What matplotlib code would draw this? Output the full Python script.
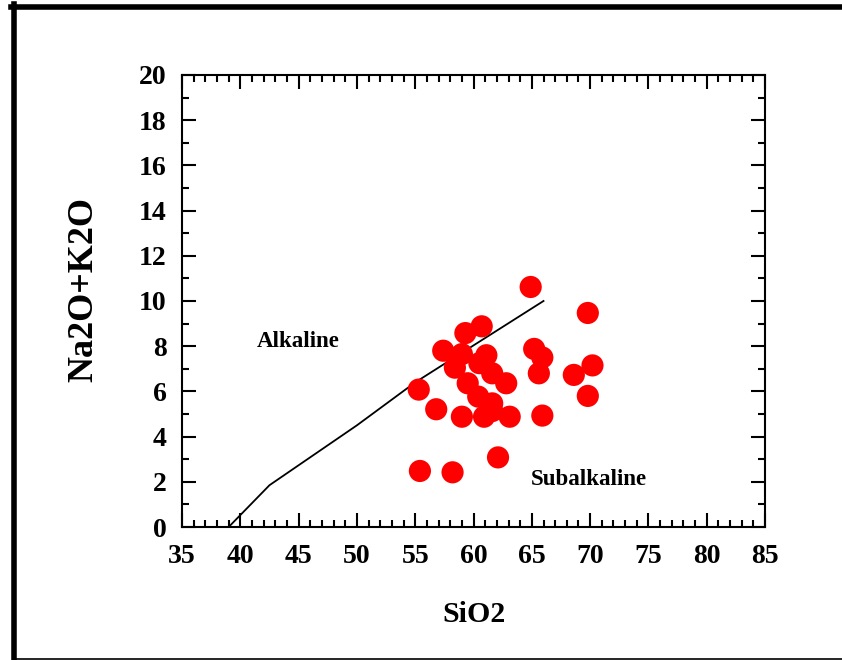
import matplotlib
matplotlib.use("Agg")
import matplotlib.pyplot as plt
from matplotlib.lines import Line2D
from matplotlib.ticker import MultipleLocator

# sample points (SiO2, Na2O+K2O)
sio2 = [64.9, 69.8, 60.7, 59.3, 57.4, 59.0, 61.1, 65.2, 65.9, 70.2,
        65.6, 68.6, 58.4, 60.5, 61.6, 59.5, 62.8, 55.3, 60.4, 61.6,
        56.8, 61.6, 69.8, 59.0, 60.9, 63.1, 65.9, 55.4, 58.2, 62.1]
alkali = [10.62, 9.47, 8.88, 8.58, 7.8, 7.65, 7.6, 7.88, 7.5, 7.15,
          6.8, 6.73, 7.05, 7.25, 6.8, 6.36, 6.36, 6.08, 5.77, 5.47,
          5.21, 5.13, 5.8, 4.88, 4.88, 4.88, 4.93, 2.48, 2.42, 3.08]

# alkaline / subalkaline divide
line_x = [39.0, 42.5, 50.0, 55.0, 66.0]
line_y = [0.0, 1.85, 4.5, 6.4, 10.0]

plt.rcParams['font.family'] = ['Liberation Serif', 'DejaVu Serif']
plt.rcParams['font.weight'] = 'bold'

fig = plt.figure(figsize=(8.42, 6.60), dpi=100)
ax = fig.add_axes([0.2162, 0.2015, 0.6924, 0.6849])

ax.plot(line_x, line_y, color='black', lw=1.3, zorder=2)
ax.scatter(sio2, alkali, s=255, color='#ff0000', edgecolors='none', zorder=3)

ax.text(45.0, 8.2, 'Alkaline', fontsize=16.5, fontweight='bold', ha='center', va='center')
ax.text(69.9, 2.12, 'Subalkaline', fontsize=16.5, fontweight='bold', ha='center', va='center')

ax.set_xlim(35, 85)
ax.set_ylim(0, 20)
ax.xaxis.set_major_locator(MultipleLocator(5))
ax.xaxis.set_minor_locator(MultipleLocator(1))
ax.yaxis.set_major_locator(MultipleLocator(2))
ax.yaxis.set_minor_locator(MultipleLocator(1))
ax.tick_params(which='both', direction='in', top=True, right=True, width=1.5)
ax.tick_params(which='major', length=10)
ax.tick_params(which='minor', length=5)
ax.tick_params(axis='x', which='major', pad=12, labelsize=20)
ax.tick_params(axis='y', which='major', pad=11, labelsize=20)
for sp in ax.spines.values():
    sp.set_linewidth(1.5)

ax.set_xlabel('SiO2', fontsize=21.5, fontweight='bold', labelpad=23)
ax.set_ylabel('Na2O+K2O', fontsize=26, fontweight='bold', labelpad=28)
ax.yaxis.label.set_y(0.525)  # label sits a bit above the axis middle

# outer frame: thick top and left, thin bottom
fig.add_artist(Line2D([11 / 842, 1], [1 - 6.5 / 660, 1 - 6.5 / 660],
                      transform=fig.transFigure, color='black', lw=4))
fig.add_artist(Line2D([13.5 / 842, 13.5 / 842], [1 - 4 / 660, 0],
                      transform=fig.transFigure, color='black', lw=4))
fig.add_artist(Line2D([16 / 842, 1], [1 / 660, 1 / 660],
                      transform=fig.transFigure, color='black', lw=1.2))

fig.savefig('out.png', dpi=100)
